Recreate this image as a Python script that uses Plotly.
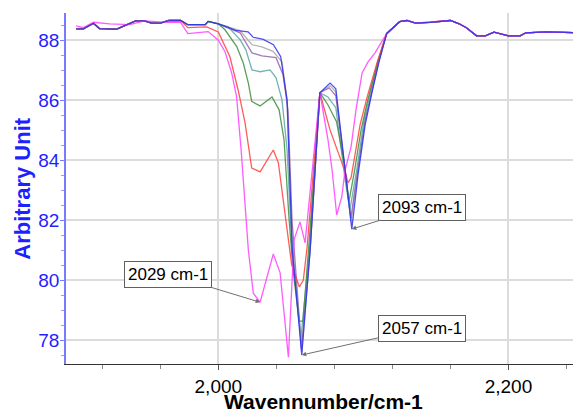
import plotly.graph_objects as go

# ---- data (wavenumber cm-1, arbitrary unit) ----
left_w = [1902, 1907, 1914, 1918, 1930, 1938, 1943, 1949, 1954, 1960, 1966, 1974]
left_v = [88.38, 88.38, 88.57, 88.39, 88.37, 88.55, 88.65, 88.65, 88.57, 88.57, 88.66, 88.66]

shoulder_w = [1979, 1991, 1993]
shoulder_v = [88.52, 88.52, 88.63]

right_w = [2116, 2125, 2130, 2136, 2146, 2153, 2160, 2166, 2171, 2178, 2184, 2190, 2195, 2200, 2208, 2212, 2226, 2248]
right_v = [88.22, 88.62, 88.66, 88.57, 88.60, 88.62, 88.66, 88.55, 88.42, 88.15, 88.15, 88.27, 88.22, 88.15, 88.15, 88.25, 88.28, 88.25]

blue_w = [2000, 2012, 2020.5, 2024, 2031, 2038, 2043, 2047.4, 2051, 2057.5, 2063.3, 2070, 2077, 2081, 2087.4, 2092, 2096.3, 2101.2, 2106, 2110.8]
blue_v = [88.55, 88.33, 88.28, 88.10, 88.03, 87.85, 87.45, 86.00, 81.00, 77.50, 81.00, 86.25, 86.57, 86.38, 83.68, 81.70, 83.51, 85.18, 86.28, 87.28]

gray_w = [2000, 2015, 2023.2, 2030, 2037.7, 2043.9, 2047.4, 2050.3, 2057.5, 2063.3, 2070, 2077, 2081, 2087.4, 2091.5, 2096, 2101, 2106, 2110.5]
gray_v = [88.55, 88.32, 87.85, 87.78, 87.63, 87.28, 86.01, 81.67, 77.60, 81.00, 86.25, 86.48, 86.28, 83.61, 81.94, 83.60, 85.25, 86.32, 87.30]

purple_w = [2000, 2015, 2023.2, 2030.1, 2039.8, 2044.6, 2048, 2050.8, 2057.3, 2063.2, 2070, 2076.5, 2081, 2087.4, 2091.4, 2096, 2101, 2106, 2110.5]
purple_v = [88.55, 88.25, 87.58, 87.48, 87.42, 86.85, 85.68, 82.01, 77.73, 81.00, 86.25, 86.41, 86.15, 83.51, 82.07, 83.65, 85.30, 86.35, 87.30]

teal_w = [2000, 2006.7, 2015, 2019, 2023.2, 2028.8, 2035.7, 2039.8, 2043.9, 2047.4, 2050.8, 2057, 2063, 2070, 2075.5, 2081, 2087.4, 2090.7, 2095.5, 2100.5, 2105.5, 2110]
teal_v = [88.55, 88.45, 88.02, 87.68, 87.01, 86.95, 87.01, 86.75, 86.01, 84.34, 81.00, 78.07, 81.10, 86.25, 86.11, 85.75, 83.34, 82.34, 83.70, 85.35, 86.40, 87.30]

green_w = [2000, 2004.6, 2012.7, 2017.2, 2020.7, 2023, 2028.8, 2037, 2041.9, 2045.3, 2048.8, 2051.5, 2055.7, 2058.4, 2063.2, 2070, 2075.5, 2081.5, 2087, 2090, 2094, 2098.4, 2103, 2110]
green_v = [88.55, 88.35, 87.79, 87.24, 86.57, 85.96, 85.81, 86.11, 85.68, 84.68, 82.01, 80.34, 78.63, 78.63, 81.67, 86.25, 85.85, 85.28, 83.84, 82.61, 83.68, 85.01, 86.01, 87.28]

red_w = [1979, 1992, 2000, 2008, 2013.6, 2018.4, 2023, 2028.8, 2037.9, 2041.4, 2047.2, 2050.6, 2055.9, 2058.6, 2061.2, 2070, 2077, 2083.9, 2087.4, 2089.4, 2091.5, 2097.7, 2102.6, 2109.4]
red_v = [88.42, 88.45, 88.28, 87.45, 86.35, 85.25, 83.74, 83.61, 84.34, 83.91, 81.67, 80.50, 79.77, 80.00, 81.10, 86.25, 85.01, 84.08, 83.61, 83.24, 83.41, 85.18, 86.11, 87.25]

magenta_w = [1902, 1907, 1914, 1925, 1939, 1949, 1965, 1974, 1979, 1993, 2000, 2004.6, 2009.2, 2012.6, 2015.7, 2020.7, 2024.1, 2028.8, 2037.9, 2042.6, 2048.3, 2052.2, 2056.3, 2059.8, 2070, 2075.6, 2078.4, 2081.6, 2085.1, 2087.4, 2091.5, 2094.9, 2099.1, 2103.2, 2108]
magenta_v = [88.48, 88.42, 88.60, 88.55, 88.52, 88.65, 88.60, 88.60, 88.22, 88.29, 88.00, 87.62, 86.91, 86.11, 84.35, 81.00, 79.56, 79.26, 80.87, 80.24, 77.43, 81.34, 81.94, 81.24, 86.25, 84.68, 83.68, 82.17, 82.78, 83.68, 84.44, 85.68, 86.91, 87.28, 87.58]

peak_labels = ["2029 cm-1", "2057 cm-1", "2093 cm-1"]
peak_w = [2028.8, 2057.5, 2092]
peak_v = [79.26, 77.50, 81.70]

x_title = "Wavennumber/cm-1"
y_title = "Arbitrary Unit"

fig = go.Figure()

def add(name, w, v, color):
    fig.add_trace(go.Scatter(x=w, y=v, mode="lines", name=name,
                             line=dict(color=color, width=1.3), opacity=0.85))

shared_w = left_w + shoulder_w
shared_v = left_v + shoulder_v
add("gray", shared_w + gray_w + right_w, shared_v + gray_v + right_v, "#a8a8a8")
add("purple", shared_w + purple_w + right_w, shared_v + purple_v + right_v, "#9a63a8")
add("teal", shared_w + teal_w + right_w, shared_v + teal_v + right_v, "#5aa6a6")
add("green", shared_w + green_w + right_w, shared_v + green_v + right_v, "#3f8f3f")
add("red", left_w + red_w + right_w, left_v + red_v + right_v, "#ff4040")
add("magenta", magenta_w + right_w, magenta_v + right_v, "#ff40ff")
add("blue", shared_w + blue_w + right_w, shared_v + blue_v + right_v, "#3030f0")

offsets = [(-92, -28), (120, -27), (70, -22)]
for lab, w, v, (ax, ay) in zip(peak_labels, peak_w, peak_v, offsets):
    fig.add_annotation(x=w, y=v, text=lab, showarrow=True, ax=ax, ay=ay,
                       arrowhead=2, arrowsize=0.9, arrowwidth=1, arrowcolor="#707070",
                       bgcolor="white", bordercolor="#606060", borderwidth=1, borderpad=3,
                       font=dict(family="Liberation Sans", size=17, color="black"))

# axis titles (placed as paper annotations to keep the plot area fixed)
fig.add_annotation(xref="paper", yref="paper", x=0.5, y=-0.107, yanchor="middle",
                   text="<b>" + x_title + "</b>", showarrow=False,
                   font=dict(family="Liberation Sans", size=21, color="black"))
fig.add_annotation(xref="paper", yref="paper", x=-0.085, y=0.5, xanchor="center", yanchor="middle",
                   text="<b>" + y_title + "</b>", showarrow=False, textangle=-90,
                   font=dict(family="Liberation Sans", size=22, color="#1f1fff"))

# page body keeps an 8 px margin, so the figure is sized to fill the rest of the window
fig.update_layout(
    width=573, height=404,
    margin=dict(l=58, r=0, t=5, b=48, autoexpand=False),
    paper_bgcolor="white", plot_bgcolor="white",
    showlegend=False,
    font=dict(family="Liberation Sans"),
)
fig.update_xaxes(
    range=[1895, 2250], tick0=2000, dtick=200, tickformat=",d", automargin=False,
    showgrid=True, gridcolor="#dcdcdc", gridwidth=1.5, zeroline=False,
    showline=True, linecolor="#333333", linewidth=1,
    ticks="outside", ticklen=5, tickcolor="#555555",
    minor=dict(dtick=40, ticks="outside", ticklen=4, tickcolor="#888888", showgrid=False),
    tickfont=dict(size=19, color="black"),
)
fig.update_yaxes(
    range=[77.2, 88.91], tick0=78, dtick=2, automargin=False,
    showgrid=True, gridcolor="#dcdcdc", gridwidth=1.5, zeroline=False,
    showline=True, linecolor="#7a7aff", linewidth=1.5,
    ticks="outside", ticklen=4, tickcolor="#7a7aff", ticklabelstandoff=-3,
    minor=dict(dtick=0.5, ticks="outside", ticklen=3, tickcolor="#9a9aff", showgrid=False),
    tickfont=dict(size=19, color="#1f1fff"),
)

fig.write_html("out.html")
